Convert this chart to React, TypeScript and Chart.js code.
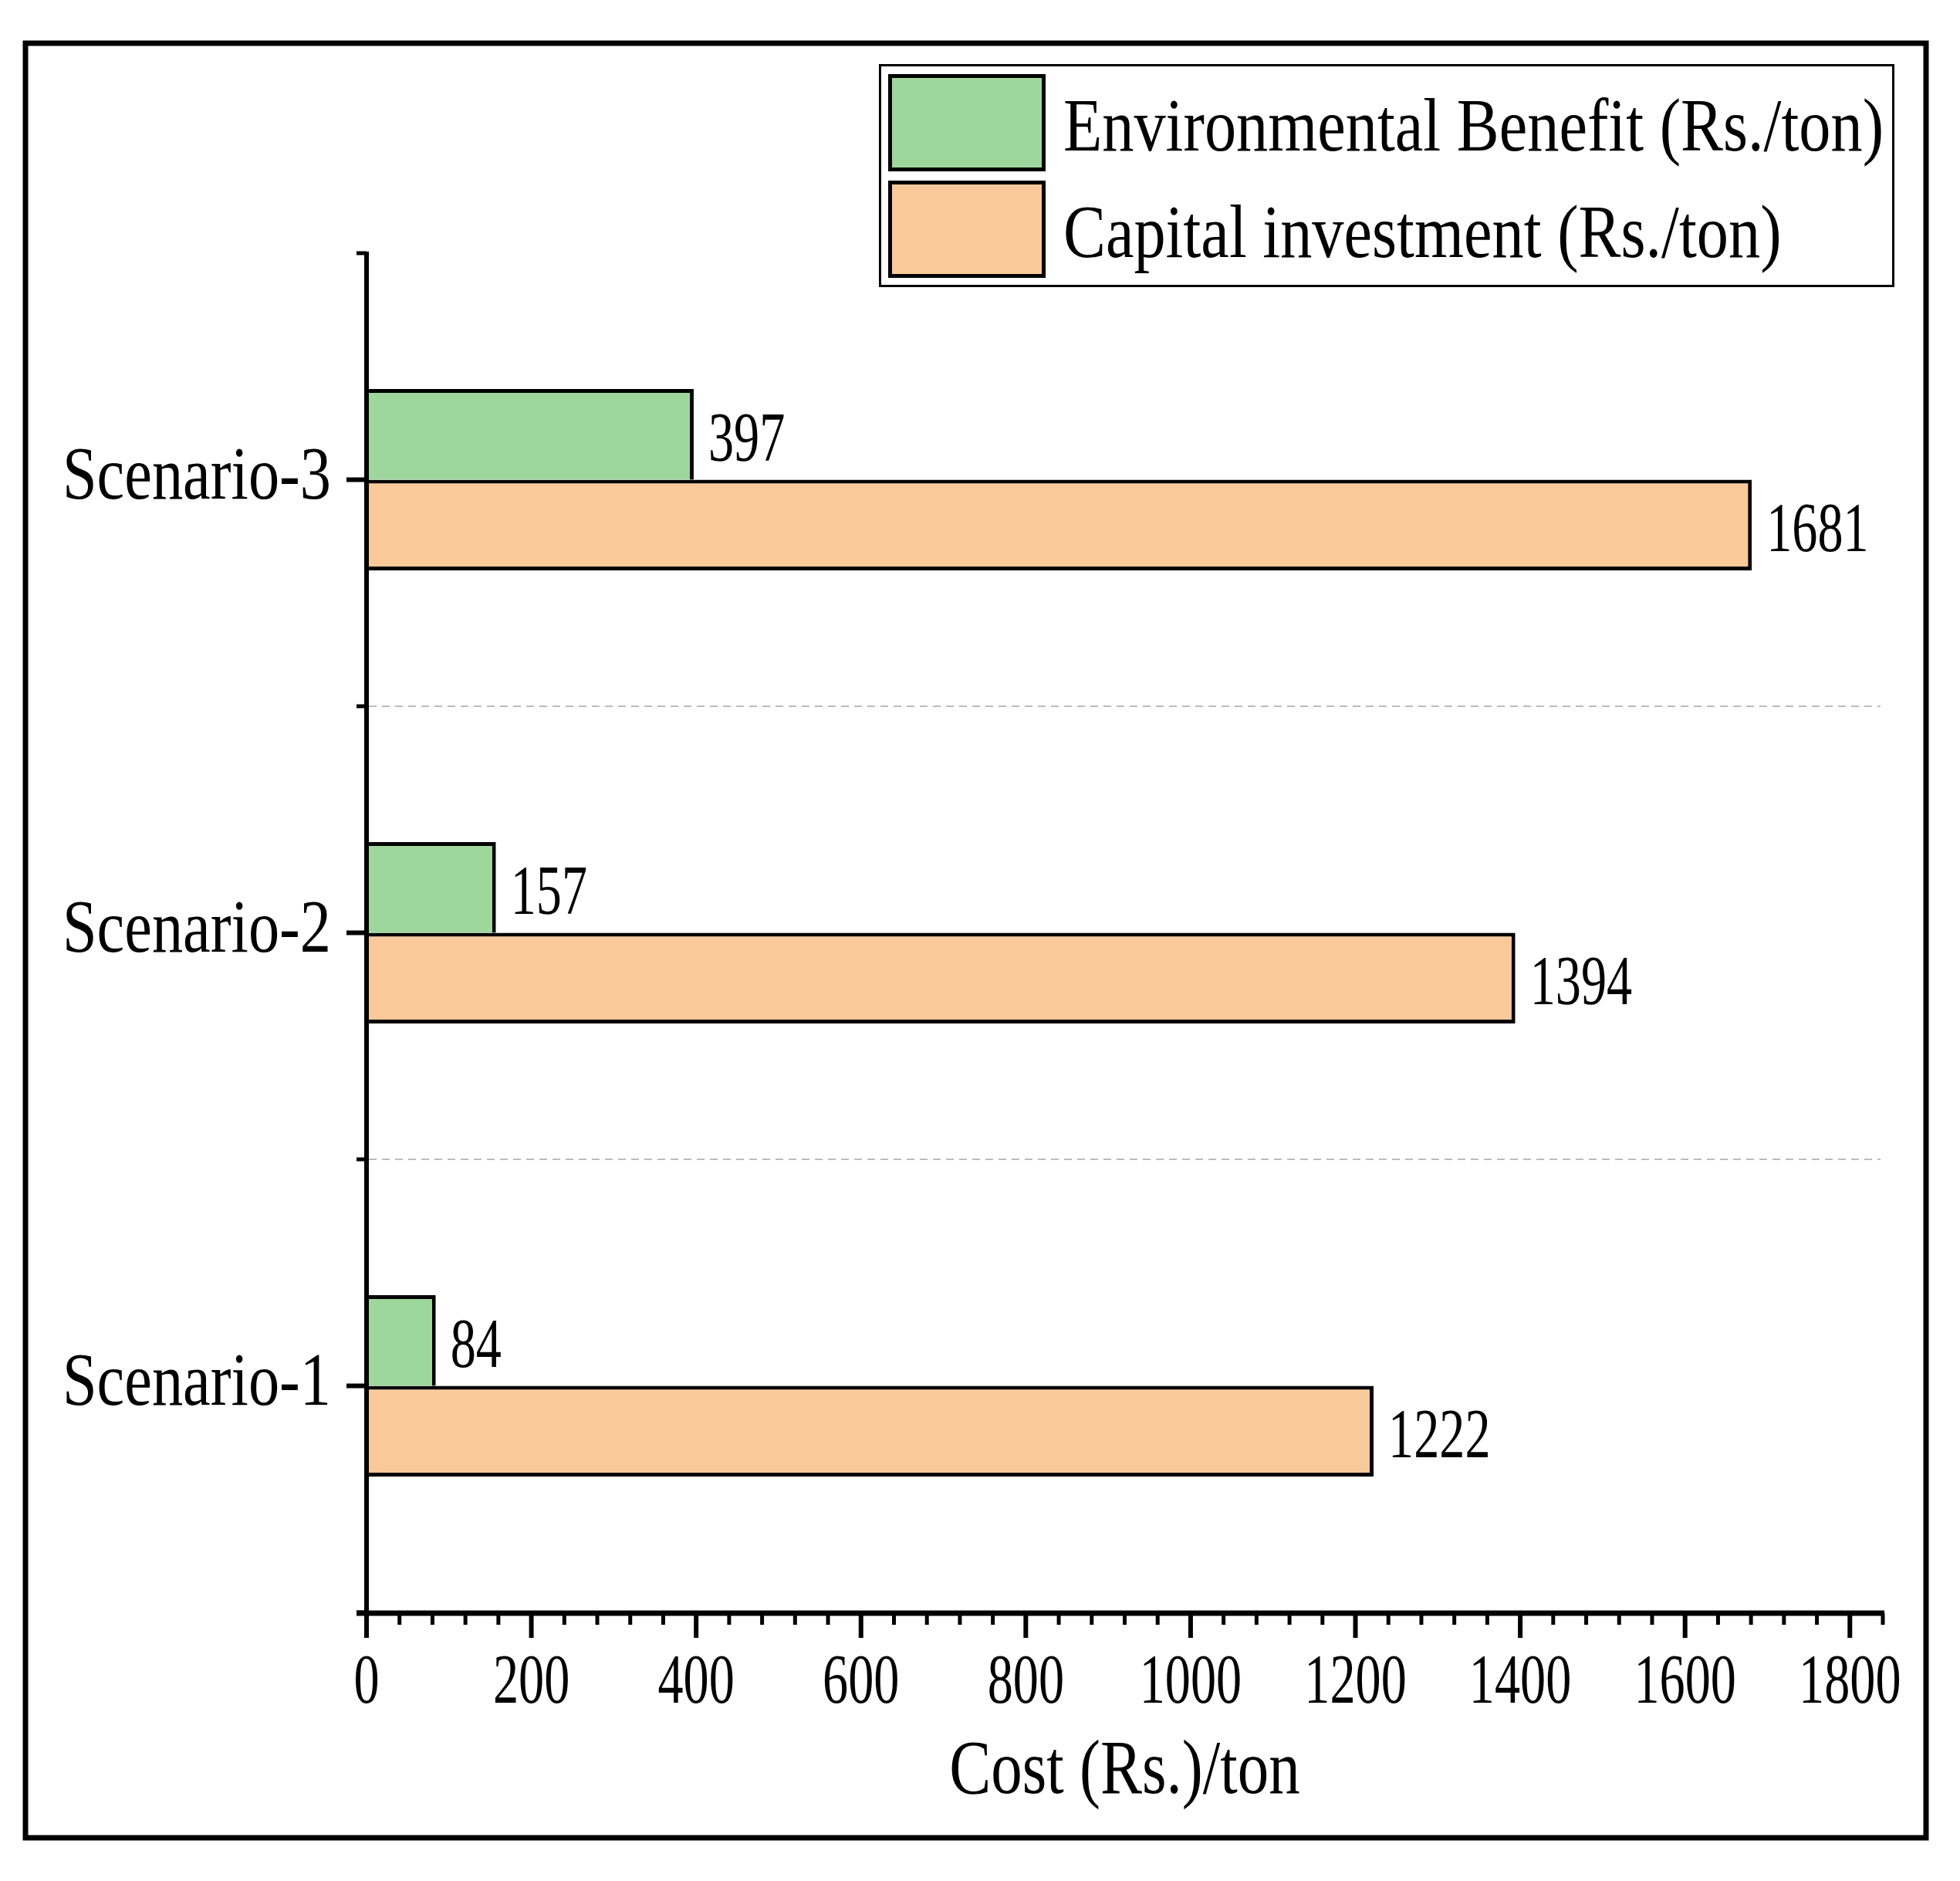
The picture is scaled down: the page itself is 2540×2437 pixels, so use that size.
import React, { useEffect, useRef } from 'react';
import { Chart, registerables } from 'chart.js';

Chart.register(...registerables);

// ---- data ----
const categories = ['Scenario-1', 'Scenario-2', 'Scenario-3'];
const environmentalBenefit = [84, 157, 397];
const capitalInvestment = [1222, 1394, 1681];
const seriesLabels = ['Environmental Benefit (Rs./ton)', 'Capital investment (Rs./ton)'];
const seriesColors = ['#9ED79C', '#FAC99A'];
const xMajorTicks = [0, 200, 400, 600, 800, 1000, 1200, 1400, 1600, 1800];
const xMinorStep = 40;
const xMin = 0;
const xMax = 1840;
const xTitle = 'Cost (Rs.)/ton';

const FONT = '"Liberation Serif", "Times New Roman", serif';

function drawText(
  ctx: CanvasRenderingContext2D,
  text: string,
  x: number,
  y: number,
  size: number,
  align: 'left' | 'right' | 'center',
  sx: number
) {
  ctx.save();
  ctx.font = `${size}px ${FONT}`;
  ctx.textBaseline = 'alphabetic';
  ctx.textAlign = 'left';
  const w = ctx.measureText(text).width * sx;
  const x0 = align === 'left' ? x : align === 'right' ? x - w : x - w / 2;
  ctx.translate(x0, y);
  ctx.scale(sx, 1);
  ctx.fillStyle = '#000';
  ctx.fillText(text, 0, 0);
  ctx.restore();
}

const decorPlugin = {
  id: 'decor',
  beforeDraw(chart: any) {
    const ctx = chart.ctx;
    ctx.save();
    ctx.fillStyle = '#fff';
    ctx.fillRect(0, 0, chart.width, chart.height);
    ctx.restore();
  },
  beforeDatasetsDraw(chart: any) {
    const ctx = chart.ctx;
    const y = chart.scales.y;
    const area = chart.chartArea;
    ctx.save();
    ctx.strokeStyle = '#BBBBBB';
    ctx.lineWidth = 2;
    ctx.setLineDash([10, 7]);
    for (let i = 0; i < categories.length - 1; i++) {
      const py = y.getPixelForValue(i + 0.5);
      ctx.beginPath();
      ctx.moveTo(area.left + 3, py);
      ctx.lineTo(area.right - 3, py);
      ctx.stroke();
    }
    ctx.restore();
  },
  afterDatasetsDraw(chart: any) {
    const ctx = chart.ctx;
    const xs = chart.scales.x;
    const ys = chart.scales.y;
    const area = chart.chartArea;
    const axisY = area.bottom + 1;
    const axisX = area.left;

    ctx.save();
    ctx.strokeStyle = '#000';
    ctx.lineCap = 'butt';

    // y axis line
    ctx.lineWidth = 6;
    ctx.beginPath();
    ctx.moveTo(axisX, area.top - 2);
    ctx.lineTo(axisX, axisY + 3);
    ctx.stroke();

    // x axis line
    ctx.lineWidth = 7;
    ctx.beginPath();
    ctx.moveTo(axisX - 13, axisY);
    ctx.lineTo(area.right + 2, axisY);
    ctx.stroke();

    // y ticks: major at centers, minor at boundaries
    for (let i = 0; i < categories.length; i++) {
      const py = ys.getPixelForValue(i);
      ctx.lineWidth = 6;
      ctx.beginPath();
      ctx.moveTo(axisX - 26, py);
      ctx.lineTo(axisX, py);
      ctx.stroke();
    }
    for (let i = 0; i <= categories.length; i++) {
      const py = ys.getPixelForValue(i - 0.5);
      ctx.lineWidth = 5;
      ctx.beginPath();
      ctx.moveTo(axisX - 13, py);
      ctx.lineTo(axisX, py);
      ctx.stroke();
    }

    // x ticks
    for (let v = xMin; v <= xMax + 0.001; v += xMinorStep) {
      const px = xs.getPixelForValue(v);
      const major = xMajorTicks.includes(v);
      ctx.lineWidth = major ? 6 : 5;
      ctx.beginPath();
      ctx.moveTo(px, axisY);
      ctx.lineTo(px, axisY + (major ? 32 : 15));
      ctx.stroke();
    }
    ctx.restore();

    // x tick labels
    for (const v of xMajorTicks) {
      const px = xs.getPixelForValue(v);
      drawText(ctx, String(v), px, axisY + 116, 92, 'center', 0.72);
    }

    // y tick labels
    categories.forEach((c, i) => {
      const py = ys.getPixelForValue(i);
      drawText(ctx, c, axisX - 46, py + 24, 98, 'right', 0.82);
    });

    // x title
    drawText(ctx, xTitle, (area.left + area.right) / 2, axisY + 233, 100, 'center', 0.81);

    // data labels
    chart.data.datasets.forEach((ds: any, di: number) => {
      const meta = chart.getDatasetMeta(di);
      meta.data.forEach((el: any, i: number) => {
        drawText(ctx, String(ds.data[i]), el.x + 19, el.y + 34, 92, 'left', 0.72);
      });
    });

    // legend
    const lx = 1139, ly = 83, lw = 1316, lh = 289;
    ctx.save();
    ctx.strokeStyle = '#000';
    ctx.lineWidth = 3;
    ctx.strokeRect(lx + 1.5, ly + 1.5, lw - 3, lh - 3);
    chart.data.datasets.forEach((ds: any, di: number) => {
      const sx = 1151, sy = 96 + di * 138, sw = 204, sh = 126;
      ctx.fillStyle = ds.backgroundColor;
      ctx.fillRect(sx, sy, sw, sh);
      ctx.lineWidth = 5;
      ctx.strokeRect(sx + 2.5, sy + 2.5, sw - 5, sh - 5);
      drawText(ctx, ds.label, 1378, sy + 99, 98, 'left', 0.84);
    });
    ctx.restore();

    // outer frame
    ctx.save();
    ctx.strokeStyle = '#000';
    ctx.lineWidth = 7;
    ctx.strokeRect(33, 56, 2463, 2325);
    ctx.restore();
  },
};

export default function App() {
  const ref = useRef<HTMLCanvasElement | null>(null);

  useEffect(() => {
    if (!ref.current) return;
    const chart = new Chart(ref.current, {
      type: 'bar',
      data: {
        labels: categories,
        datasets: [
          {
            label: seriesLabels[0],
            data: environmentalBenefit,
            backgroundColor: seriesColors[0],
            borderColor: '#000',
            borderWidth: { top: 5, right: 5, bottom: 0, left: 0 } as any,
            borderSkipped: false,
            categoryPercentage: 0.4,
            barPercentage: 1,
          },
          {
            label: seriesLabels[1],
            data: capitalInvestment,
            backgroundColor: seriesColors[1],
            borderColor: '#000',
            borderWidth: { top: 5, right: 5, bottom: 5, left: 0 } as any,
            borderSkipped: false,
            categoryPercentage: 0.4,
            barPercentage: 1,
          },
        ],
      },
      options: {
        indexAxis: 'y',
        responsive: false,
        animation: false,
        devicePixelRatio: 1,
        layout: { padding: { left: 475, right: 100, top: 328, bottom: 348 } },
        plugins: { legend: { display: false }, tooltip: { enabled: false } },
        scales: {
          x: { type: 'linear', min: xMin, max: xMax, display: false },
          y: { type: 'category', reverse: true, offset: true, display: false },
        },
      },
      plugins: [decorPlugin],
    });
    return () => chart.destroy();
  }, []);

  return (
    <div style={{ position: 'absolute', left: 0, top: 0, width: 2540, height: 2437 }}>
      <canvas ref={ref} width={2540} height={2437} style={{ display: 'block', width: 2540, height: 2437 }} />
    </div>
  );
}
